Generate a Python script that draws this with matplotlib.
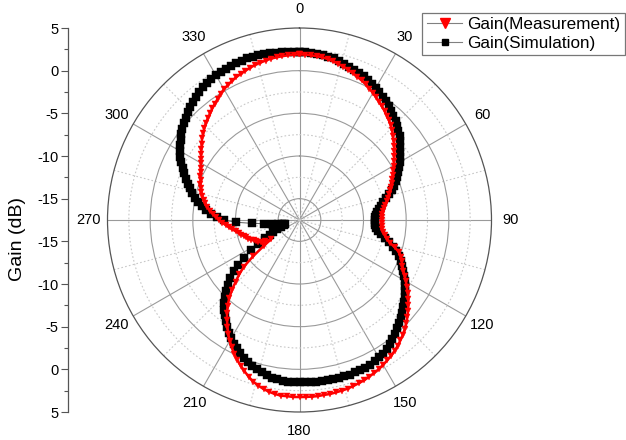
import numpy as np
import matplotlib
matplotlib.use("Agg")
import matplotlib.pyplot as plt
from matplotlib.ticker import FixedLocator, FuncFormatter, NullFormatter
from matplotlib.lines import Line2D

plt.rcParams['font.family'] = ['Liberation Sans', 'DejaVu Sans']

# ---------------- data ----------------
angles_deg = list(range(0, 360, 2))

gain_simulation = [
    2.15, 2.15, 2.1, 2.05, 2.0, 1.95, 1.85, 1.7, 1.55, 1.4,
    1.25, 1.1, 0.95, 0.75, 0.55, 0.35, 0.15, -0.1, -0.3, -0.55,
    -0.8, -1.05, -1.3, -1.6, -1.9, -2.2, -2.55, -2.9, -3.25, -3.6,
    -3.95, -4.3, -4.65, -5.0, -5.35, -5.7, -6.1, -6.55, -7.0, -7.45,
    -7.85, -8.15, -8.4, -8.55, -8.65, -8.7, -8.7, -8.65, -8.5, -8.2,
    -7.8, -7.3, -6.7, -6.1, -5.6, -5.1, -4.7, -4.35, -4.0, -3.6,
    -3.25, -2.9, -2.55, -2.2, -1.9, -1.6, -1.3, -1.0, -0.7, -0.4,
    -0.1, 0.2, 0.5, 0.75, 0.95, 1.1, 1.25, 1.35, 1.45, 1.5,
    1.5, 1.55, 1.55, 1.55, 1.55, 1.55, 1.55, 1.55, 1.55, 1.55,
    1.5, 1.5, 1.5, 1.45, 1.35, 1.25, 1.1, 0.9, 0.7, 0.45,
    0.2, -0.1, -0.4, -0.75, -1.1, -1.5, -1.95, -2.4, -2.85, -3.3,
    -3.8, -4.35, -4.9, -5.5, -6.2, -6.9, -7.7, -8.6, -9.6, -10.8,
    -11.9, -12.9, -13.6, -14.1, -14.6, -15.2, -15.6, -15.7, -15.6, -15.4,
    -15.0, -14.3, -13.3, -11.9, -10.0, -8.6, -7.8, -7.1, -6.5, -6.0,
    -5.45, -4.95, -4.5, -4.1, -3.7, -3.3, -2.9, -2.5, -2.1, -1.7,
    -1.35, -1.0, -0.7, -0.4, -0.1, 0.2, 0.45, 0.7, 0.95, 1.15,
    1.35, 1.55, 1.75, 1.9, 2.0, 2.1, 2.2, 2.25, 2.3, 2.35,
    2.35, 2.4, 2.4, 2.4, 2.35, 2.35, 2.3, 2.25, 2.2, 2.2,
]

gain_measurement = [
    1.9, 1.9, 1.85, 1.8, 1.75, 1.65, 1.5, 1.35, 1.2, 1.0,
    0.8, 0.6, 0.4, 0.2, -0.05, -0.3, -0.55, -0.8, -1.05, -1.3,
    -1.55, -1.8, -2.1, -2.4, -2.75, -3.1, -3.4, -3.75, -4.1, -4.45,
    -4.75, -5.05, -5.35, -5.6, -5.85, -6.05, -6.3, -6.55, -6.8, -7.05,
    -7.3, -7.5, -7.65, -7.75, -7.8, -7.85, -7.85, -7.85, -7.8, -7.6,
    -7.35, -7.05, -6.6, -5.9, -5.2, -4.85, -4.6, -4.3, -3.95, -3.55,
    -3.1, -2.65, -2.2, -1.75, -1.3, -0.9, -0.5, -0.1, 0.25, 0.6,
    0.9, 1.2, 1.45, 1.7, 1.9, 2.1, 2.3, 2.45, 2.6, 2.75,
    2.85, 2.95, 3.05, 3.1, 3.15, 3.2, 3.2, 3.25, 3.25, 3.25,
    3.25, 3.25, 3.2, 3.2, 3.1, 2.95, 2.75, 2.5, 2.2, 1.8,
    1.35, 0.9, 0.45, -0.05, -0.6, -1.15, -1.75, -2.4, -3.05, -3.7,
    -4.4, -5.2, -6.1, -7.1, -8.0, -9.0, -10.6, -12.3, -13.5, -12.8,
    -12.3, -12.0, -11.8, -11.6, -11.35, -11.1, -10.9, -10.7, -10.45, -10.2,
    -9.9, -9.55, -9.2, -8.85, -8.45, -8.1, -7.7, -7.35, -7.0, -6.6,
    -6.3, -6.0, -5.75, -5.55, -5.35, -5.15, -5.0, -4.8, -4.6, -4.4,
    -4.15, -3.9, -3.6, -3.3, -2.95, -2.6, -2.3, -2.0, -1.7, -1.45,
    -1.2, -0.9, -0.65, -0.35, -0.05, 0.2, 0.4, 0.6, 0.8, 0.95,
    1.1, 1.25, 1.4, 1.5, 1.6, 1.7, 1.75, 1.8, 1.85, 1.9,
]

series_labels = ["Gain(Measurement)", "Gain(Simulation)"]
theta_tick_deg = list(range(0, 360, 30))
theta_tick_labels = [str(a) for a in theta_tick_deg]
r_min, r_max = -17.5, 5.0
r_major = [-15, -10, -5, 0]
r_minor = [-12.5, -7.5, -2.5, 2.5]
left_axis_label = "Gain (dB)"

# ---------------- figure ----------------
W, H = 626, 440
fig = plt.figure(figsize=(W / 100, H / 100), dpi=100)
cx, cy, R = 299.5, 220.0, 192.0
ax = fig.add_axes([(cx - R) / W, (H - cy - R) / H, 2 * R / W, 2 * R / H],
                  projection='polar')
ax.set_theta_zero_location('N')
ax.set_theta_direction(-1)
ax.set_ylim(r_min, r_max)

# grids
ax.set_xticks(np.deg2rad(theta_tick_deg))
ax.set_xticklabels(theta_tick_labels, fontsize=10.5)
ax.xaxis.set_minor_locator(FixedLocator(np.deg2rad(np.arange(15, 360, 30))))
ax.xaxis.set_minor_formatter(NullFormatter())
ax.set_yticks(r_major)
ax.yaxis.set_minor_locator(FixedLocator(r_minor))
ax.set_yticklabels([])
ax.tick_params(axis='x', which='both', length=0, pad=6.5)
ax.tick_params(axis='y', which='both', length=0)
ax.grid(True, which='major', color='#9a9a9a', lw=0.8, ls='-')
ax.grid(True, which='minor', color='#c8c8c8', lw=0.8, ls=(0, (1.5, 2)))
ax.spines['polar'].set_color('#555555')
ax.spines['polar'].set_linewidth(0.9)

th_sim = np.deg2rad(angles_deg + [angles_deg[0] + 360])
r_sim = gain_simulation + [gain_simulation[0]]
th_mea = np.deg2rad(angles_deg + [angles_deg[0] + 360])
r_mea = gain_measurement + [gain_measurement[0]]

ax.plot(th_sim, r_sim, color='#606060', lw=0.7, marker='s',
        markersize=5.2, markerfacecolor='black',
        markeredgecolor='black', markeredgewidth=0.3, zorder=3,
        clip_on=False)
ax.plot(th_mea, r_mea, color='red', lw=1.8, marker='v',
        markersize=4.8, markerfacecolor='red',
        markeredgecolor='red', markeredgewidth=0.3, zorder=4,
        clip_on=False)

# legend handles (gray connecting line as in the original legend)
h_mea = Line2D([], [], color='#808080', lw=0.8, marker='v', markersize=7,
               markerfacecolor='red', markeredgecolor='red')
h_sim = Line2D([], [], color='#808080', lw=0.8, marker='s', markersize=5,
               markerfacecolor='black', markeredgecolor='black')
leg = fig.legend([h_mea, h_sim], series_labels, loc='upper right',
                 bbox_to_anchor=(625 / W, 1 - 13 / H), fontsize=12.3,
                 frameon=True, fancybox=False, borderpad=0.25,
                 labelspacing=0.2, handlelength=2.1, handletextpad=0.3,
                 borderaxespad=0.0, numpoints=1)
leg.get_frame().set_edgecolor('#555555')
leg.get_frame().set_linewidth(0.9)

# left mirrored radial scale
axl = fig.add_axes([68 / W, (H - cy - R) / H, 0.001, 2 * R / H])
span = r_max - r_min
axl.set_ylim(-span, span)
axl.set_xlim(0, 1)
for s in ['top', 'right', 'bottom']:
    axl.spines[s].set_visible(False)
axl.spines['left'].set_color('#555555')
axl.spines['left'].set_linewidth(0.9)
axl.set_xticks([])
maj = [v - r_min for v in r_major + [r_max]]
mino = [v - r_min for v in r_minor]
axl.yaxis.set_major_locator(FixedLocator(sorted([-m for m in maj] + maj)))
axl.yaxis.set_minor_locator(FixedLocator(sorted([-m for m in mino] + mino)))
axl.yaxis.set_major_formatter(FuncFormatter(lambda v, p: f"{abs(v) + r_min:g}"))
axl.tick_params(axis='y', which='major', length=5, width=0.8, color='#555555',
                labelsize=10.5, pad=2)
axl.tick_params(axis='y', which='minor', length=3, width=0.8, color='#555555')
axl.patch.set_visible(False)

fig.text(18 / W, 1 - 239 / H, left_axis_label, rotation=90, ha='center',
         va='center', fontsize=14)

fig.savefig("out.png", dpi=100)
